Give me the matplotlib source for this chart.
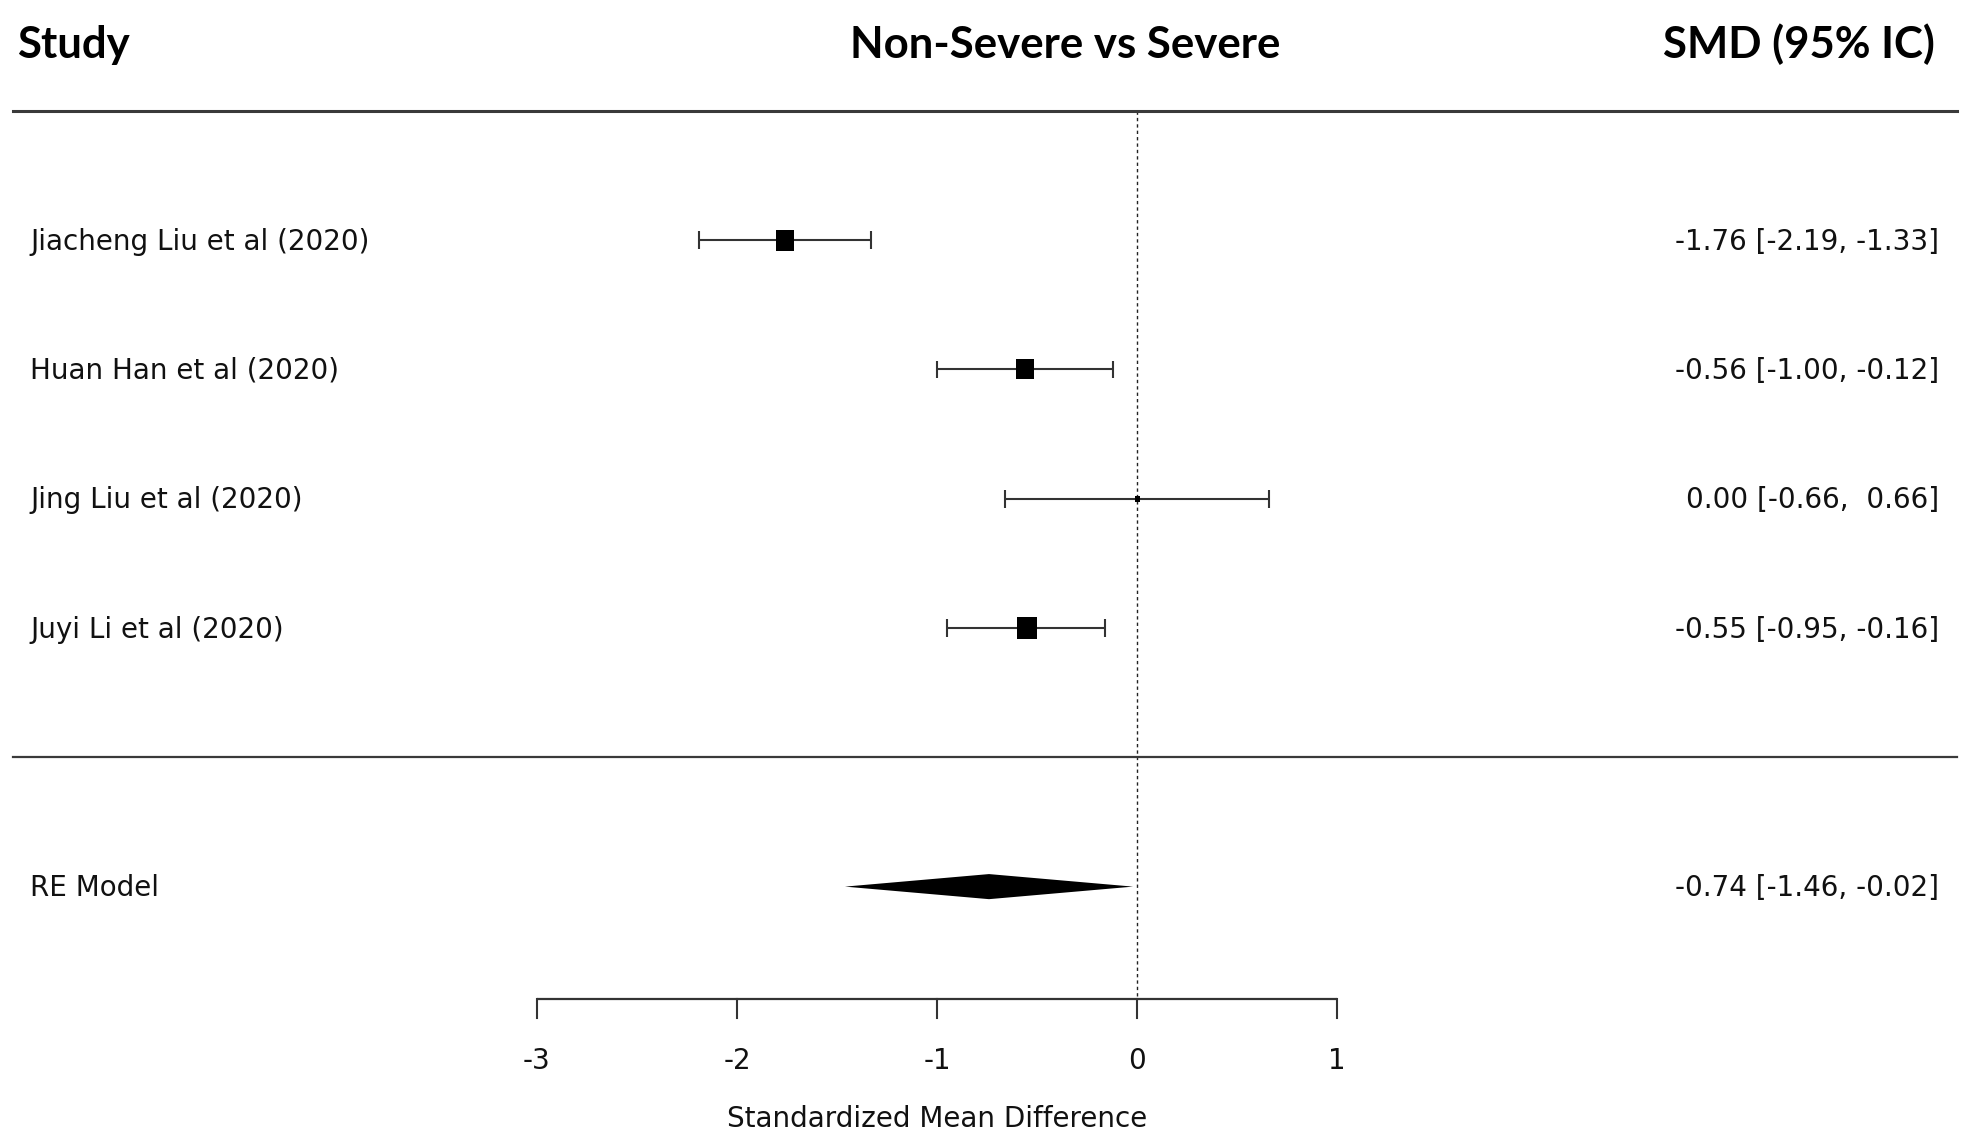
import matplotlib
matplotlib.use("Agg")
import matplotlib.pyplot as plt
from matplotlib.path import Path
from matplotlib.patches import Polygon

# ---------------- data ----------------
studies = ["Jiacheng Liu et al (2020)", "Huan Han et al (2020)",
           "Jing Liu et al (2020)", "Juyi Li et al (2020)"]
smd = [-1.76, -0.56, 0.00, -0.55]
ci_low = [-2.19, -1.00, -0.66, -0.95]
ci_high = [-1.33, -0.12, 0.66, -0.16]
est_labels = ["-1.76 [-2.19, -1.33]", "-0.56 [-1.00, -0.12]",
              "0.00 [-0.66,  0.66]", "-0.55 [-0.95, -0.16]"]
model_name = "RE Model"
model_est = -0.74
model_low = -1.46
model_high = -0.02
model_label = "-0.74 [-1.46, -0.02]"
xticks = [-3, -2, -1, 0, 1]
xtick_labels = ["-3", "-2", "-1", "0", "1"]

# ---------------- style ----------------
W, H, DPI = 1963, 1146, 100
fig = plt.figure(figsize=(W / DPI, H / DPI), dpi=DPI)
ax = fig.add_axes([0, 0, 1, 1])
ax.set_xlim(-5.685, 4.13)
ax.set_ylim(-3.006, 5.857)
ax.axis("off")

line_col = "#333333"
rows = [4, 3, 2, 1]
# marker box sizes in pixels (width, height) per study
box_w = [17.8, 17.3, 5.0, 20.0]
box_h = [21.0, 20.7, 6.0, 21.7]
txt_dy = -0.012

yt = ax.get_yaxis_transform()

# horizontal rules
ax.axhline(5, xmin=0.0066, xmax=0.997, color="#3a3a3a", lw=2.2)
ax.axhline(0, xmin=0.0066, xmax=0.997, color="#3a3a3a", lw=1.6)

# reference line at 0
ax.plot([0, 0], [5, -1.869], color="#222222", lw=1.0,
        linestyle=(0, (2.4, 2.2)), zorder=1)

# study rows
for i, r in enumerate(rows):
    ax.plot([ci_low[i], ci_high[i]], [r, r], color=line_col, lw=1.5,
            solid_capstyle="butt", zorder=2)
    for xe in (ci_low[i], ci_high[i]):
        ax.plot([xe, xe], [r - 0.068, r + 0.068], color=line_col, lw=1.5,
                solid_capstyle="butt", zorder=2)
    w, h = box_w[i], box_h[i]
    m = max(w, h)
    hw, hh = 0.5 * w / m, 0.5 * h / m
    verts = [(-hw, -hh), (hw, -hh), (hw, hh), (-hw, hh), (-hw, -hh)]
    mk = Path(verts, [Path.MOVETO, Path.LINETO, Path.LINETO, Path.LINETO, Path.CLOSEPOLY])
    ax.plot([smd[i]], [r], marker=mk, markersize=m * 72 / DPI,
            color="black", markeredgewidth=0, linestyle="none", zorder=3)
    ax.text(30 / W, r + txt_dy, studies[i], transform=yt, ha="left", va="center",
            fontsize=20, family="DejaVu Sans", color="#111111")
    ax.text(1939 / W, r + txt_dy, est_labels[i], transform=yt, ha="right", va="center",
            fontsize=20, family="DejaVu Sans", color="#111111")

# summary diamond
dh = 0.097
diamond = Polygon([(model_low, -1), (model_est, -1 + dh), (model_high, -1),
                   (model_est, -1 - dh)], closed=True, color="black", lw=0, zorder=3)
ax.add_patch(diamond)
ax.text(30 / W, -1 + txt_dy, model_name, transform=yt, ha="left", va="center",
        fontsize=20, family="DejaVu Sans", color="#111111")
ax.text(1939 / W, -1 + txt_dy, model_label, transform=yt, ha="right", va="center",
        fontsize=20, family="DejaVu Sans", color="#111111")

# x axis
ax_y = -1.869
ax.plot([xticks[0], xticks[-1]], [ax_y, ax_y], color=line_col, lw=1.6,
        solid_capstyle="butt")
for t, lab in zip(xticks, xtick_labels):
    ax.plot([t, t], [ax_y, ax_y - 0.147], color=line_col, lw=1.5)
    ax.text(t, -2.35, lab, ha="center", va="center", fontsize=20,
            family="DejaVu Sans", color="#111111")
ax.text((xticks[0] + xticks[-1]) / 2, -2.795, "Standardized Mean Difference",
        ha="center", va="center", fontsize=20, family="DejaVu Sans", color="#111111")

# headers
hdr_y = 5.405
ax.text(17 / W, hdr_y, "Study", transform=yt, ha="left", va="baseline",
        fontsize=31.5, family="Lato", fontweight="bold")
ax.text(1065 / W, hdr_y, "Non-Severe vs Severe", transform=yt, ha="center",
        va="baseline", fontsize=31.5, family="Lato", fontweight="bold")
ax.text(1935 / W, hdr_y, "SMD (95% IC)", transform=yt, ha="right", va="baseline",
        fontsize=31.5, family="Lato", fontweight="bold")

fig.savefig("out.png", dpi=DPI)
